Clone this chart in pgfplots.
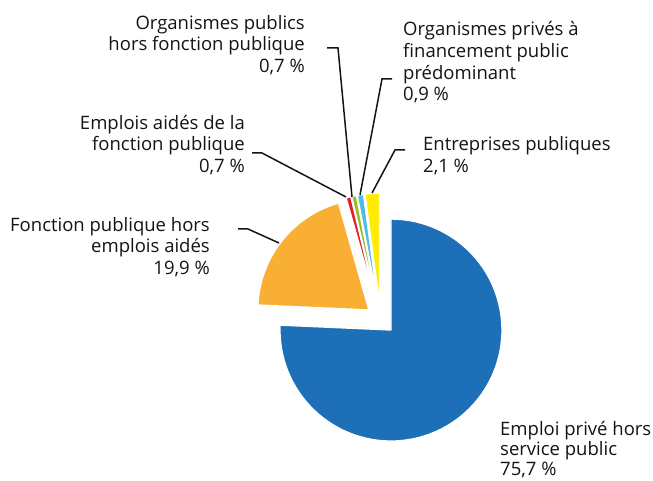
\documentclass[border=0pt]{standalone}
\usepackage{fontspec}
\setmainfont{Open Sans}
\usepackage{pgfplots}
\pgfplotsset{compat=1.18}
\definecolor{cblue}{RGB}{29,112,183}
\definecolor{corange}{RGB}{248,175,51}
\definecolor{cred}{RGB}{226,30,38}
\definecolor{cgreen}{RGB}{149,193,31}
\definecolor{clblue}{RGB}{80,186,232}
\definecolor{cyellow}{RGB}{255,236,0}
\definecolor{ctext}{RGB}{20,20,20}
\tikzset{lbl/.style={font=\fontsize{18.5}{21.7}\selectfont, inner sep=0pt, text=ctext}}
\begin{document}
\begin{tikzpicture}
\begin{axis}[scale only axis, width=653pt, height=480pt,
  xmin=0, xmax=653, ymin=0, ymax=480, hide axis, clip=false,
  slice/.style={draw=white, line width=1.3pt, samples=90, line join=round},
  leader/.style={ctext, line width=1.5pt, mark=none}]
% Emploi prive hors service public 75,7 % : -182.52 .. 90
\addplot[slice, fill=cblue, domain=-182.52:90] ({390.97+111*cos(x)},{149.96+111*sin(x)}) -- (axis cs:390.97,149.96) -- cycle;
% Fonction publique hors emplois aides 19,9 % : 105.84 .. 177.48
\addplot[slice, fill=corange, domain=105.84:177.48] ({368.84+111*cos(x)},{170.10+111*sin(x)}) -- (axis cs:368.84,170.10) -- cycle;
% Emplois aides de la fonction publique 0,7 % : 103.32 .. 105.84
\addplot[slice, fill=cred, domain=103.32:105.84, samples=10] ({376.4+111*cos(x)},{175.32+111*sin(x)}) -- (axis cs:376.4,175.32) -- cycle;
% Organismes publics hors fonction publique 0,7 % : 100.80 .. 103.32
\addplot[slice, fill=cgreen, domain=100.80:103.32, samples=10] ({377.2+111*cos(x)},{175.47+111*sin(x)}) -- (axis cs:377.2,175.47) -- cycle;
% Organismes prives a financement public predominant 0,9 % : 97.56 .. 100.80
\addplot[slice, fill=clblue, domain=97.56:100.80, samples=10] ({378.1+111*cos(x)},{175.61+111*sin(x)}) -- (axis cs:378.1,175.61) -- cycle;
% Entreprises publiques 2,1 % : 90 .. 97.56
\addplot[slice, fill=cyellow, domain=90:97.56, samples=20] ({379.61+111*cos(x)},{175.77+111*sin(x)}) -- (axis cs:379.61,175.77) -- cycle;

% leader lines
\addplot[leader] coordinates {(327,432) (338,432) (352,283)};
\addplot[leader] coordinates {(252,327) (262,327) (346,283)};
\addplot[leader] coordinates {(238,251) (248,251) (279,237)};
\addplot[leader] coordinates {(392,401) (382,401) (360,285)};
\addplot[leader] coordinates {(405,330) (395,330) (372,287)};

% labels (anchored at the baseline of their last line)
\node[lbl, align=right, anchor=base east] at (axis cs:305,407.5) {Organismes publics\\hors fonction publique\\0,7~\%};
\node[lbl, align=right, anchor=base east] at (axis cs:245,307.5) {Emplois aidés de la\\fonction publique\\0,7~\%};
\node[lbl, align=right, anchor=base east] at (axis cs:210,205.3) {Fonction publique hors\\emplois aidés\\19,9~\%};
\node[lbl, align=left, anchor=base west] at (axis cs:403,379) {Organismes privés à\\financement public\\prédominant\\0,9~\%};
\node[lbl, align=left, anchor=base west] at (axis cs:423,307.8) {Entreprises publiques\\2,1~\%};
\node[lbl, align=left, anchor=base west, font=\fontsize{18.5}{19.6}\selectfont] at (axis cs:500,5) {Emploi privé hors\\service public\\75,7~\%};
\end{axis}
\pgfresetboundingbox
\path (current axis.south west) rectangle (current axis.north east);
\end{tikzpicture}
\end{document}
